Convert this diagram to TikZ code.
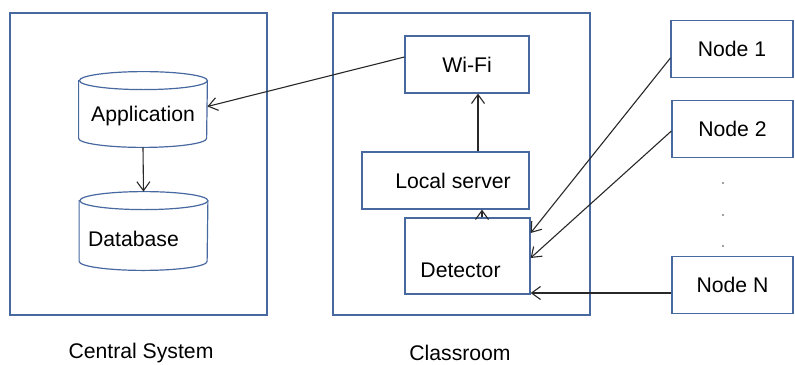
\documentclass[tikz,border=0pt]{standalone}
\usepackage{fontspec}
\setmainfont{Liberation Sans}
\usetikzlibrary{arrows.meta,positioning}
\definecolor{frameblue}{RGB}{72,104,160}
\definecolor{linegray}{RGB}{40,40,40}

\begin{document}
\begin{tikzpicture}[x=0.5pt,y=-0.5pt,
	font=\fontsize{10.6}{12}\selectfont,
	frame/.style={draw=frameblue, line width=0.6pt, inner sep=0pt},
	box/.style={frame, minimum width=#1, minimum height=28.5pt},
	store/.style={inner sep=0pt, minimum width=64pt, minimum height=#1},
	arr/.style={draw=linegray, line width=0.55pt, -{Straight Barb[length=4.5pt,width=6.5pt]}},
	]
	\useasboundingbox (0,0) rectangle (795,364);
	% the two frames
	\node[frame, minimum width=128.5pt, minimum height=151pt] (central) at (138.5,164) {};
	\node[frame, minimum width=128.5pt, minimum height=151pt] (room) at (461.5,164) {};
	\node (centrallbl) at (141,353) {Central System};
	\node (roomlbl) at (460,353) {Classroom};
	% central system (cylinders drawn round the store nodes)
	\node[store=37.5pt] (app) at (143,109.5) {};
	\node[store=39pt] (base) at (143.5,231) {};
	\foreach \c in {app,base} {
		\draw[frameblue, line width=0.6pt, fill=white]
			([yshift=-4.5pt]\c.north west) -- ([yshift=4.5pt]\c.south west)
			arc[start angle=180, end angle=360, x radius=32pt, y radius=4.5pt]
			-- ([yshift=-4.5pt]\c.north east)
			arc[start angle=0, end angle=180, x radius=32pt, y radius=4.5pt] -- cycle;
		\draw[frameblue, line width=0.6pt] ([yshift=-4.5pt]\c.north east)
			arc[start angle=0, end angle=-180, x radius=32pt, y radius=4.5pt];
	}
	\node at (app.center) [yshift=-3.5pt] {Application};
	\node at (base.center) [xshift=-5pt,yshift=-4pt] {Database};
	% classroom
	\node[box=62pt] (wifi) at (467,64.5) {Wi-Fi};
	\node[box=83.5pt, label={[xshift=3.75pt]center:Local server}] (server) at (445.5,180.5) {};
	\node[box=62.5pt, minimum height=38pt, label={[xshift=-3.5pt,yshift=-7pt]center:Detector}] (det) at (467.5,256) {};
	% sensor nodes
	\node[box=61pt] (n1) at (732,49) {Node 1};
	\node[box=60.5pt] (n2) at (732.5,129) {Node 2};
	\node[box=60.5pt] (nN) at (732.5,285) {Node N};
	\foreach \y in {183,215,246}
		\fill[gray] (723,\y) circle (0.6pt);
	% connectors
	\draw[arr] (app.south) -- (base.north);
	\draw[arr] ([xshift=7.25pt]det.north) -- ([xshift=18.25pt]server.south);
	\draw[arr] ([xshift=16.25pt]server.north) -- ([xshift=5.5pt]wifi.south);
	\draw[arr] ([yshift=3.75pt]wifi.west) -- ([yshift=1.5pt]app.east);
	\draw[arr] ([yshift=-4.5pt]n1.west) -- ([yshift=11.5pt]det.east);
	\draw[arr] ([yshift=-1pt]n2.west) -- ([yshift=-1pt]det.east);
	\draw[arr] ([yshift=-4pt]nN.west) -- ([yshift=-18.5pt]det.east);
\end{tikzpicture}
\end{document}
